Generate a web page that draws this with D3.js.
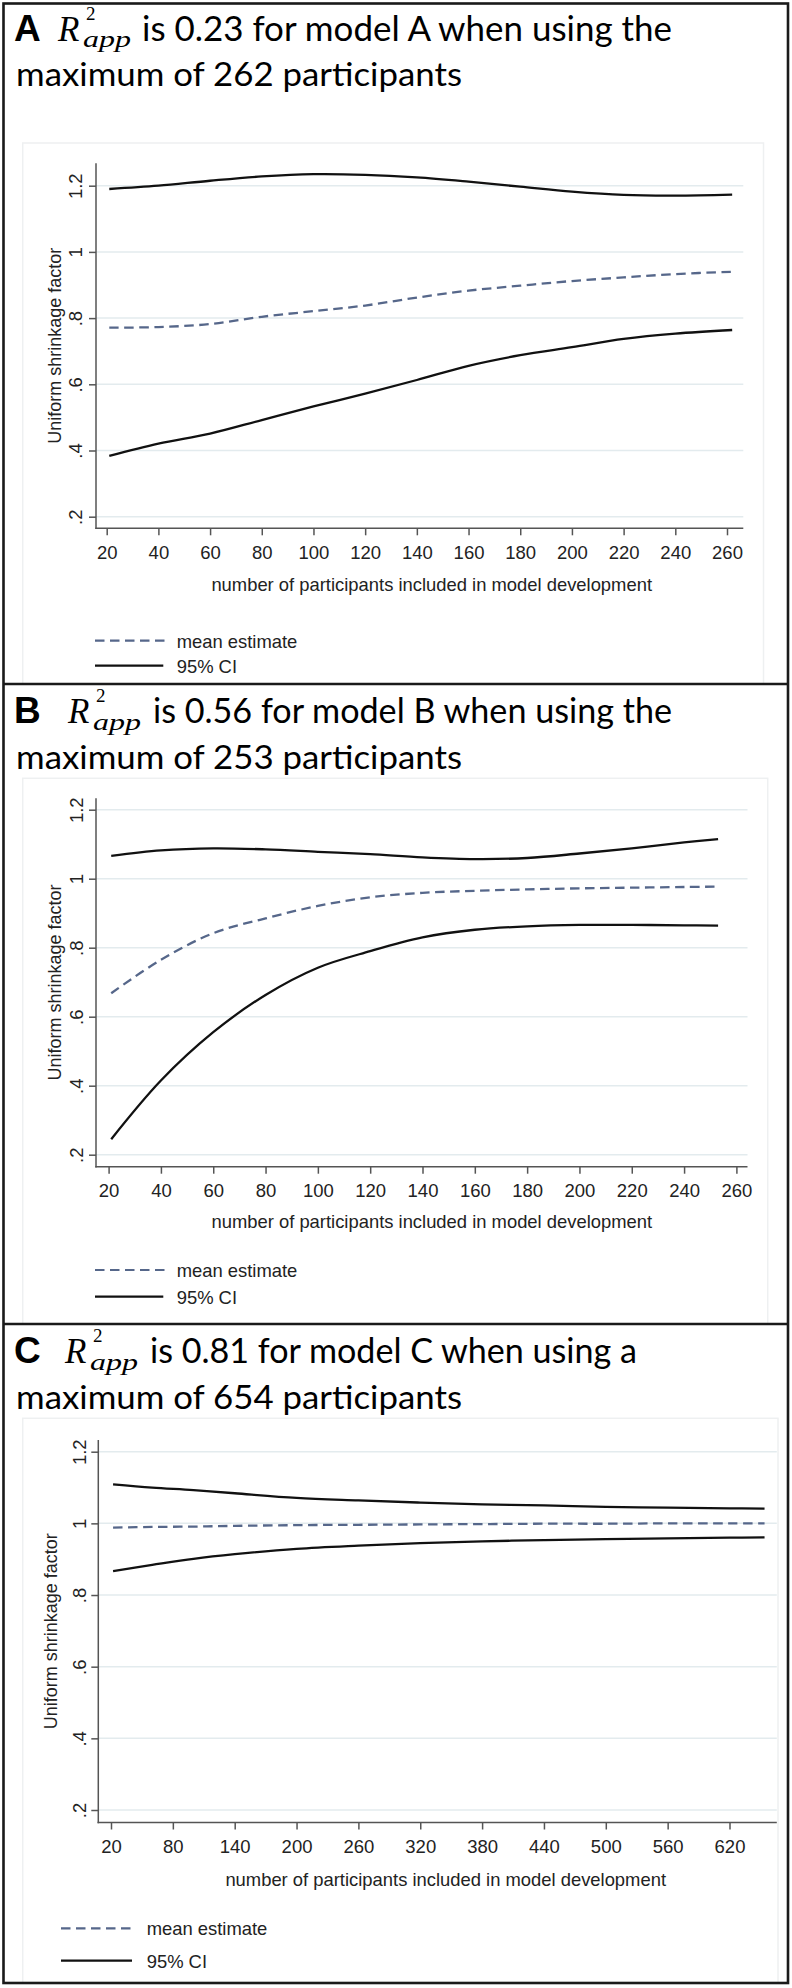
<!DOCTYPE html>
<html><head><meta charset="utf-8">
<script src="https://cdn.jsdelivr.net/npm/d3@7"></script>
<style>body{margin:0;background:#fff} svg{display:block}</style>
</head><body>
<svg id="c" width="792" height="1988"></svg>
<script>
// ---------------- DATA ----------------
const panelLetters = ["A", "B", "C"];
const titleLine1 = ["is 0.23 for model A when using the", "is 0.56 for model B when using the", "is 0.81 for model C when using a"];
const titleLine2 = ["maximum of 262 participants", "maximum of 253 participants", "maximum of 654 participants"];
const yTickValues = [0.2, 0.4, 0.6, 0.8, 1, 1.2];
const yTickLabels = [".2", ".4", ".6", ".8", "1", "1.2"];
const xTicksAB = [20, 40, 60, 80, 100, 120, 140, 160, 180, 200, 220, 240, 260];
const xTicksC = [20, 80, 140, 200, 260, 320, 380, 440, 500, 560, 620];
const yAxisTitle = "Uniform shrinkage factor";
const xAxisTitle = "number of participants included in model development";
const legendLabels = ["mean estimate", "95% CI"];

// Panel A (model A, max 262)
const nA     = [21, 40, 60, 80, 100, 120, 140, 160, 180, 200, 220, 240, 262];
const upperA = [1.190, 1.200, 1.215, 1.228, 1.235, 1.233, 1.225, 1.212, 1.197, 1.182, 1.172, 1.170, 1.173];
const meanA  = [0.771, 0.773, 0.782, 0.804, 0.821, 0.838, 0.862, 0.883, 0.898, 0.912, 0.923, 0.933, 0.940];
const lowerA = [0.384, 0.421, 0.451, 0.492, 0.533, 0.572, 0.613, 0.656, 0.688, 0.712, 0.737, 0.753, 0.764];
// Panel B (model B, max 253)
const nB     = [21, 40, 60, 80, 100, 120, 140, 160, 180, 200, 220, 240, 253];
const upperB = [1.066, 1.082, 1.088, 1.085, 1.078, 1.071, 1.062, 1.057, 1.060, 1.073, 1.088, 1.105, 1.115];
const meanB  = [0.668, 0.765, 0.842, 0.885, 0.921, 0.946, 0.959, 0.965, 0.969, 0.972, 0.974, 0.976, 0.977];
const lowerB = [0.245, 0.415, 0.555, 0.663, 0.742, 0.790, 0.830, 0.852, 0.862, 0.866, 0.866, 0.865, 0.864];
// Panel C (model C, max 654)
const nC     = [22, 60, 100, 140, 200, 260, 320, 380, 440, 500, 560, 620, 654];
const upperC = [1.109, 1.100, 1.093, 1.084, 1.071, 1.064, 1.058, 1.053, 1.050, 1.046, 1.044, 1.042, 1.041];
const meanC  = [0.988, 0.990, 0.991, 0.993, 0.995, 0.996, 0.997, 0.998, 0.999, 0.999, 1.000, 1.000, 1.000];
const lowerC = [0.867, 0.884, 0.901, 0.914, 0.929, 0.938, 0.945, 0.950, 0.953, 0.956, 0.958, 0.960, 0.961];

const panelData = [
  {n: nA, upper: upperA, mean: meanA, lower: lowerA, xTicks: xTicksAB, xDom: [20, 260]},
  {n: nB, upper: upperB, mean: meanB, lower: lowerB, xTicks: xTicksAB, xDom: [20, 260]},
  {n: nC, upper: upperC, mean: meanC, lower: lowerC, xTicks: xTicksC, xDom: [20, 620]}
];

// ---------------- LAYOUT (positions / styles) ----------------
const layout = [
  {letterX: 14, base1: 40.5, rX: 58, line1X: 142, line1End: 672, line2X: 16, line2W: 446,
   regX0: 22.7, regY0: 143, regX1: 763.5, regY1: 684,
   yAxisX: 96, yAxisTop: 163.3, yBot: 516.7, yTop: 185.7, xAxisY: 528.3, axisXEnd: 743.3,
   xPx: [106.7, 727], tickBase: 559, yLabelBase: 82, titleX: 431.7, titleBase: 591, yTitleBase: 60.5,
   legX0: 95, legX1: 166.7, legSolidX1: 163.3, legTextX: 176.7, legY1: 640.7, legY2: 665.7},
  {letterX: 14, base1: 723, rX: 68, line1X: 153, line1End: 672, line2X: 16, line2W: 446,
   regX0: 22.7, regY0: 778.3, regX1: 767.7, regY1: 1324,
   yAxisX: 96, yAxisTop: 798.3, yBot: 1154.7, yTop: 809.7, xAxisY: 1166.7, axisXEnd: 747.5,
   xPx: [108.6, 736.4], tickBase: 1197.5, yLabelBase: 83, titleX: 431.8, titleBase: 1228, yTitleBase: 60.5,
   legX0: 95, legX1: 166.7, legSolidX1: 163.3, legTextX: 176.7, legY1: 1270, legY2: 1296.7},
  {letterX: 14, base1: 1363.3, rX: 65, line1X: 150, line1End: 637, line2X: 16, line2W: 446,
   regX0: 22.7, regY0: 1418.3, regX1: 778, regY1: 1983,
   yAxisX: 98.3, yAxisTop: 1440, yBot: 1810, yTop: 1451.7, xAxisY: 1822.5, axisXEnd: 776.8,
   xPx: [111, 729.5], tickBase: 1853, yLabelBase: 85.5, titleX: 445.7, titleBase: 1886, yTitleBase: 57,
   legX0: 61, legX1: 135, legSolidX1: 132, legTextX: 146.7, legY1: 1928.3, legY2: 1960.7}
];
const LINE_GAP = 45.5;   // baseline distance between the two title lines

const STATA_FONT = "'Liberation Sans', Arial, sans-serif";
const TITLE_FONT = "Lato, 'Open Sans', sans-serif";
const MATH_FONT = "'Liberation Serif', 'DejaVu Serif', serif";
const MEAN_COLOR = "#56678a";
const GRID_COLOR = "#e3ebee";
const AXIS_COLOR = "#555";

const svg = d3.select("#c");
svg.append("rect").attr("width", 792).attr("height", 1988).attr("fill", "#fff");

panelData.forEach((P, i) => {
  const L = layout[i];
  const g = svg.append("g");

  // Stata graph region outline (faint)
  g.append("rect")
    .attr("x", L.regX0).attr("y", L.regY0)
    .attr("width", L.regX1 - L.regX0).attr("height", L.regY1 - L.regY0)
    .attr("fill", "none").attr("stroke", "#eef0f1").attr("stroke-width", 1.5);

  // ---- Title ----
  g.append("text").attr("x", L.letterX).attr("y", L.base1)
    .attr("font-family", STATA_FONT).attr("font-weight", "bold").attr("font-size", 37)
    .attr("fill", "#000").text(panelLetters[i]);
  // R^2_app : R, superscript 2 above, subscript app below
  g.append("text").attr("x", L.rX).attr("y", L.base1)
    .attr("font-family", MATH_FONT).attr("font-size", 35).attr("font-style", "italic")
    .attr("fill", "#000").text("R");
  g.append("text").attr("x", L.rX + 28).attr("y", L.base1 - 21)
    .attr("font-family", MATH_FONT).attr("font-size", 19).attr("fill", "#000").text("2");
  g.append("text").attr("x", L.rX + 25).attr("y", L.base1 + 6.5)
    .attr("font-family", MATH_FONT).attr("font-size", 24).attr("font-style", "italic")
    .attr("textLength", 48).attr("lengthAdjust", "spacingAndGlyphs")
    .attr("fill", "#000").text("app");
  g.append("text").attr("x", L.line1X).attr("y", L.base1)
    .attr("font-family", TITLE_FONT).attr("font-size", 35).attr("fill", "#000")
    .attr("textLength", L.line1End - L.line1X).attr("lengthAdjust", "spacingAndGlyphs").text(titleLine1[i]);
  g.append("text").attr("x", L.line2X).attr("y", L.base1 + LINE_GAP)
    .attr("font-family", TITLE_FONT).attr("font-size", 33).attr("fill", "#000")
    .attr("textLength", L.line2W).attr("lengthAdjust", "spacingAndGlyphs").text(titleLine2[i]);

  // ---- Scales ----
  const x = d3.scaleLinear().domain(P.xDom).range(L.xPx);
  const y = d3.scaleLinear().domain([0.2, 1.2]).range([L.yBot, L.yTop]);

  // gridlines
  g.append("g").selectAll("line").data(yTickValues).join("line")
    .attr("x1", L.yAxisX).attr("x2", L.axisXEnd)
    .attr("y1", d => y(d)).attr("y2", d => y(d))
    .attr("stroke", GRID_COLOR).attr("stroke-width", 1.5);

  // curves
  const line = d3.line().x(d => x(d[0])).y(d => y(d[1])).curve(d3.curveCatmullRom.alpha(0.5));
  g.append("path").datum(d3.zip(P.n, P.upper)).attr("d", line)
    .attr("fill", "none").attr("stroke", "#111").attr("stroke-width", 2.3);
  g.append("path").datum(d3.zip(P.n, P.lower)).attr("d", line)
    .attr("fill", "none").attr("stroke", "#111").attr("stroke-width", 2.3);
  g.append("path").datum(d3.zip(P.n, P.mean)).attr("d", line)
    .attr("fill", "none").attr("stroke", MEAN_COLOR).attr("stroke-width", 2.3)
    .attr("stroke-dasharray", "9.5,5.5");

  // x axis
  const xAxis = d3.axisBottom(x).tickValues(P.xTicks).tickSize(7).tickFormat(d3.format("d"));
  const gx = g.append("g").attr("transform", `translate(0,${L.xAxisY})`).call(xAxis);
  gx.select(".domain").remove();
  gx.selectAll(".tick line").attr("stroke", AXIS_COLOR).attr("stroke-width", 1.5);
  gx.selectAll(".tick text").attr("y", L.tickBase - L.xAxisY).attr("dy", 0)
    .attr("font-family", STATA_FONT).attr("font-size", 18.5).attr("fill", "#222");
  g.append("line").attr("x1", L.yAxisX - 0.75).attr("x2", L.axisXEnd)
    .attr("y1", L.xAxisY).attr("y2", L.xAxisY).attr("stroke", AXIS_COLOR).attr("stroke-width", 1.5);

  // y axis
  const yAxis = d3.axisLeft(y).tickValues(yTickValues).tickSize(7)
    .tickFormat((d, k) => yTickLabels[k]);
  const gy = g.append("g").attr("transform", `translate(${L.yAxisX},0)`).call(yAxis);
  gy.select(".domain").remove();
  gy.selectAll(".tick line").attr("stroke", AXIS_COLOR).attr("stroke-width", 1.5);
  gy.selectAll(".tick text")
    .attr("x", 0).attr("y", 0).attr("dy", 0).attr("text-anchor", "middle")
    .attr("transform", `translate(${L.yLabelBase - L.yAxisX},0) rotate(-90)`)
    .attr("font-family", STATA_FONT).attr("font-size", 18.5).attr("fill", "#222");
  g.append("line").attr("x1", L.yAxisX).attr("x2", L.yAxisX)
    .attr("y1", L.yAxisTop).attr("y2", L.xAxisY + 0.75).attr("stroke", AXIS_COLOR).attr("stroke-width", 1.5);

  // axis titles
  g.append("text").attr("x", L.titleX).attr("y", L.titleBase).attr("text-anchor", "middle")
    .attr("font-family", STATA_FONT).attr("font-size", 18.4).attr("fill", "#222").text(xAxisTitle);
  g.append("text").attr("text-anchor", "middle")
    .attr("transform", `translate(${L.yTitleBase},${(L.yAxisTop + L.xAxisY) / 2}) rotate(-90)`)
    .attr("font-family", STATA_FONT).attr("font-size", 18).attr("fill", "#222").text(yAxisTitle);

  // legend
  g.append("line").attr("x1", L.legX0).attr("x2", L.legX1).attr("y1", L.legY1).attr("y2", L.legY1)
    .attr("stroke", MEAN_COLOR).attr("stroke-width", 2.2).attr("stroke-dasharray", "9.5,5.5");
  g.append("line").attr("x1", L.legX0).attr("x2", L.legSolidX1).attr("y1", L.legY2).attr("y2", L.legY2)
    .attr("stroke", "#111").attr("stroke-width", 2.2);
  g.append("text").attr("x", L.legTextX).attr("y", L.legY1 + 6.8)
    .attr("font-family", STATA_FONT).attr("font-size", 18.4).attr("fill", "#222").text(legendLabels[0]);
  g.append("text").attr("x", L.legTextX).attr("y", L.legY2 + 6.8)
    .attr("font-family", STATA_FONT).attr("font-size", 18.4).attr("fill", "#222").text(legendLabels[1]);
});

// outer frame and dividers
svg.append("rect").attr("x", 3.5).attr("y", 3.5).attr("width", 784.5).attr("height", 1979.5)
  .attr("fill", "none").attr("stroke", "#1a1a1a").attr("stroke-width", 2.6);
[684, 1324].forEach(yy => {
  svg.append("line").attr("x1", 3.5).attr("x2", 788).attr("y1", yy).attr("y2", yy)
    .attr("stroke", "#1a1a1a").attr("stroke-width", 2.6);
});
</script>
</body></html>
